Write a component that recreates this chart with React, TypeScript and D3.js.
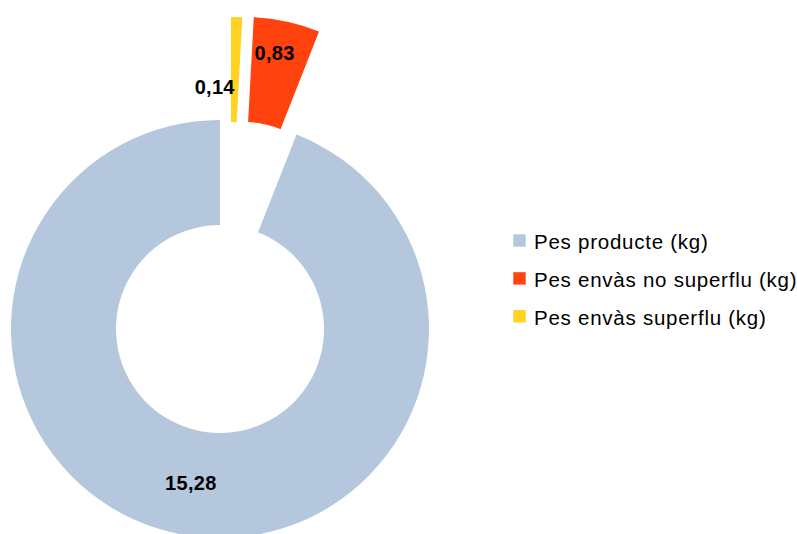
import React from "react";
import * as d3 from "d3";

const categories = ["Pes producte (kg)", "Pes envàs no superflu (kg)", "Pes envàs superflu (kg)"];
const values = [15.28, 0.83, 0.14];
const valueLabels = ["15,28", "0,83", "0,14"];
const colors = ["#b4c7dc", "#ff420e", "#ffd320"];

const W = 797;
const H = 534;
const CX = 220;
const CY = 329;
const R = 209;
const r = 104;
// explosion distance and direction (deg, clockwise from 12 o'clock); null = mid-angle
const explodeDist = [0, 105.5, 103.6];
const explodeDir: (number | null)[] = [null, null, 6.1];
const labelRadius = [156.5, 176, 139];
const labelShiftDeg = [0, -1.8, 0];
const labelAnchor = ["middle", "middle", "end"];

export default function App() {
  // pie order: yellow, orange, blue clockwise from top
  const order = [2, 1, 0];
  const pie = d3
    .pie<number>()
    .sort(null)
    .value((i) => values[i])
    .startAngle(0)
    .endAngle(2 * Math.PI);
  const arcs = pie(order);
  const arcGen = d3.arc<d3.PieArcDatum<number>>().innerRadius(r).outerRadius(R);

  const slices = arcs.map((a) => {
    const i = a.data;
    const mid = (a.startAngle + a.endAngle) / 2;
    const dirDeg = explodeDir[i];
    const dir = dirDeg == null ? mid : (dirDeg * Math.PI) / 180;
    const dx = explodeDist[i] * Math.sin(dir);
    const dy = -explodeDist[i] * Math.cos(dir);
    const lr = labelRadius[i];
    const la = mid + (labelShiftDeg[i] * Math.PI) / 180;
    const lx = CX + dx + lr * Math.sin(la);
    const ly = CY + dy - lr * Math.cos(la);
    return { a, i, dx, dy, lx, ly };
  });

  const legendX = 513.3;
  const legendY = [240.5, 278.4, 316.3];

  return (
    <svg
      width={W}
      height={H}
      style={{ position: "absolute", left: 0, top: 0, background: "#fff" }}
      fontFamily="'Liberation Sans', Arial, sans-serif"
    >
      <rect x={0} y={0} width={W} height={H} fill="#fff" />
      {slices.map((s) => (
        <path
          key={s.i}
          d={arcGen(s.a) || ""}
          transform={`translate(${CX + s.dx},${CY + s.dy})`}
          fill={colors[s.i]}
        />
      ))}
      {slices.map((s) => (
        <text
          key={"l" + s.i}
          x={s.lx}
          y={s.ly}
          textAnchor={labelAnchor[s.i] as any}
          dominantBaseline="central"
          fontWeight="bold"
          fontSize={20}
          letterSpacing={0.3}
          fill="#000"
        >
          {valueLabels[s.i]}
        </text>
      ))}
      {categories.map((c, i) => (
        <g key={"lg" + i}>
          <rect x={legendX} y={legendY[i] - 6.2} width={12.4} height={12.4} fill={colors[i]} />
          <text
            x={534}
            y={legendY[i] + 8.5}
            fontSize={20.5}
            letterSpacing={0.75}
            fill="#000"
          >
            {c}
          </text>
        </g>
      ))}
    </svg>
  );
}
